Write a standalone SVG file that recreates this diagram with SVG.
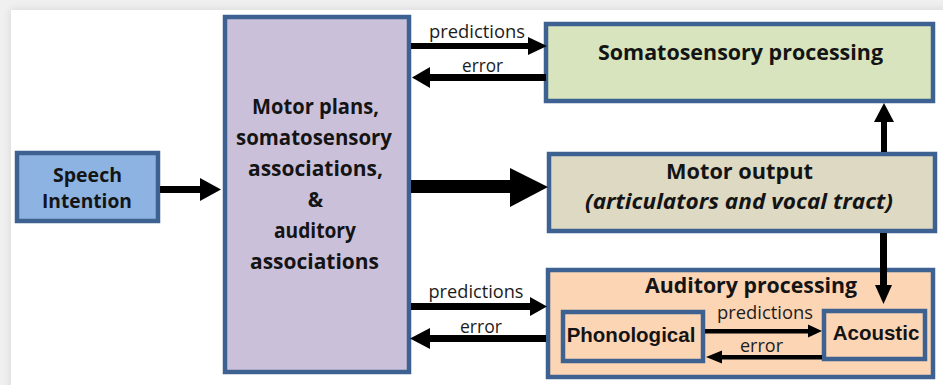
<svg xmlns="http://www.w3.org/2000/svg" width="943" height="385" viewBox="0 0 943 385">
<style>
.box{stroke:#3d6190;stroke-width:4.5}
.t{font-family:"Open Sans",Lato,"Liberation Sans",sans-serif;font-weight:bold;fill:#141414;text-anchor:middle;font-variant-ligatures:none}
.l{font-family:"Open Sans",Lato,"Liberation Sans",sans-serif;font-size:18px;fill:#1c1c1c;text-anchor:middle;font-variant-ligatures:none}
.a{font-family:"Liberation Sans",Arial,sans-serif;font-weight:bold;font-size:20.5px;fill:#141414;text-anchor:middle}
.arr{fill:#000}
</style>
<defs>
<filter id="sh" x="-5%" y="-5%" width="110%" height="110%">
<feDropShadow dx="0" dy="0" stdDeviation="4" flood-color="#000" flood-opacity="0.12"/>
</filter>
</defs>
<rect x="0" y="0" width="943" height="385" fill="#f0f0f0"/>
<rect x="11" y="10" width="940" height="385" fill="#ffffff" filter="url(#sh)"/>

<g id="speech-intention">
<rect class="box" x="17" y="153" width="141" height="68" fill="#8db3e2"/>
<text class="t" x="87.5" y="182" font-size="19.5" textLength="69" lengthAdjust="spacingAndGlyphs">Speech</text>
<text class="t" x="87" y="208" font-size="19.5" textLength="90" lengthAdjust="spacingAndGlyphs">Intention</text>
</g>

<g id="motor-plans">
<rect class="box" x="225" y="17" width="184" height="355" fill="#cbc0da"/>
<text class="t" x="315.5" y="114" font-size="20.5" textLength="127" lengthAdjust="spacingAndGlyphs">Motor plans,</text>
<text class="t" x="314" y="145" font-size="20.5" textLength="156" lengthAdjust="spacingAndGlyphs">somatosensory</text>
<text class="t" x="315.5" y="176" font-size="20.5" textLength="135" lengthAdjust="spacingAndGlyphs">associations,</text>
<text class="t" x="315.5" y="207" font-size="20.5">&amp;</text>
<text class="t" x="315" y="238" font-size="20.5" textLength="82" lengthAdjust="spacingAndGlyphs">auditory</text>
<text class="t" x="314.5" y="269" font-size="20.5" textLength="129" lengthAdjust="spacingAndGlyphs">associations</text>
</g>

<g id="somatosensory">
<rect class="box" x="546" y="24" width="387" height="77" fill="#d7e4bd"/>
<text class="t" x="740.5" y="60" font-size="21" textLength="285" lengthAdjust="spacingAndGlyphs">Somatosensory processing</text>
</g>

<g id="motor-output">
<rect class="box" x="549" y="154" width="386" height="77" fill="#ddd9c3"/>
<text class="t" x="739.5" y="179" font-size="21" textLength="147" lengthAdjust="spacingAndGlyphs">Motor output</text>
<text class="t" x="739" y="209" font-size="21" font-style="italic" textLength="308" lengthAdjust="spacingAndGlyphs">(articulators and vocal tract)</text>
</g>

<g id="auditory-processing">
<rect class="box" x="548" y="270" width="385" height="107" fill="#fcd5b5"/>
<text class="t" x="751" y="293" font-size="21" textLength="212" lengthAdjust="spacingAndGlyphs">Auditory processing</text>
</g>

<g id="phonological">
<rect class="box" x="563" y="312" width="140" height="49" fill="#fcd5b5"/>
<text class="a" x="631" y="342">Phonological</text>
</g>

<g id="acoustic">
<rect class="box" x="824" y="311" width="101" height="48" fill="#fcd5b5"/>
<text class="a" x="876" y="340">Acoustic</text>
</g>

<g id="connectors">
<rect class="arr" x="160" y="186" width="41" height="7"/>
<polygon class="arr" points="200,178 221,189.5 200,201"/>
<rect class="arr" x="411" y="180" width="100" height="13"/>
<polygon class="arr" points="510,168 548,187 510,207"/>
<rect class="arr" x="411" y="43" width="118" height="6"/>
<polygon class="arr" points="528,37 547,46 528,55"/>
<text class="l" x="477" y="38" textLength="96" lengthAdjust="spacingAndGlyphs">predictions</text>
<rect class="arr" x="429" y="74" width="117" height="7"/>
<polygon class="arr" points="430,67 412,77.5 430,88"/>
<text class="l" x="482.5" y="72" textLength="41" lengthAdjust="spacingAndGlyphs">error</text>
<rect class="arr" x="881" y="121" width="6" height="31"/>
<polygon class="arr" points="874,122 884,103 894,122"/>
<rect class="arr" x="880" y="233" width="7" height="54"/>
<polygon class="arr" points="875,285 883.5,304 892,285"/>
<rect class="arr" x="411" y="303" width="120" height="7"/>
<polygon class="arr" points="530,297 547,306.5 530,316"/>
<text class="l" x="476" y="298" textLength="95" lengthAdjust="spacingAndGlyphs">predictions</text>
<rect class="arr" x="429" y="335" width="117" height="7"/>
<polygon class="arr" points="430,328 410,338.5 430,349"/>
<text class="l" x="481" y="333" textLength="42" lengthAdjust="spacingAndGlyphs">error</text>
<rect class="arr" x="705" y="329" width="104" height="4.5"/>
<polygon class="arr" points="808,324.5 822,331 808,337.5"/>
<text class="l" x="765" y="319" textLength="96" lengthAdjust="spacingAndGlyphs">predictions</text>
<rect class="arr" x="721" y="355" width="101" height="4.5"/>
<polygon class="arr" points="722,350.5 706,357 722,363.5"/>
<text class="l" x="761.5" y="352" textLength="43" lengthAdjust="spacingAndGlyphs">error</text>
</g>
</svg>
